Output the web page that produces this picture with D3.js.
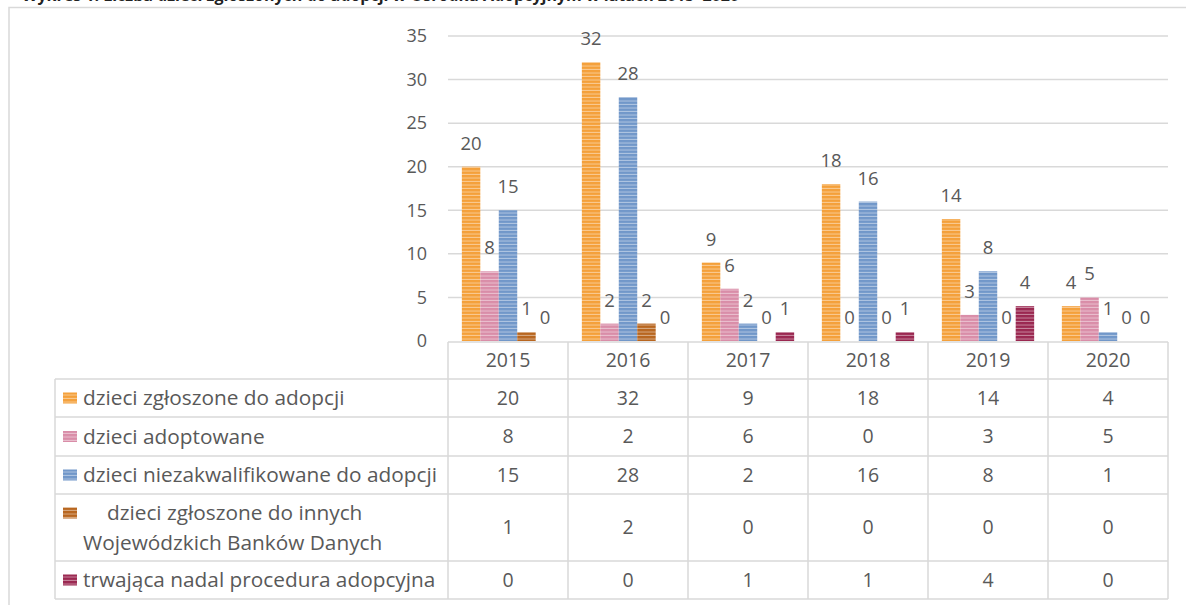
<!DOCTYPE html>
<html lang="pl">
<head>
  <meta charset="UTF-8">
  <title>Dzieci zgłoszone do adopcji 2015-2020</title>
  <script src="https://d3js.org/d3.v7.min.js"></script>
  <style>
    body {
      margin: 0;
      background: white;
      font-family: "Open Sans", sans-serif;
    }
    svg text {
      fill: #595959;
    }
  </style>
</head>
<body>
  <svg width="1186" height="605"></svg>
  <script>
    // chart data
    const years = ["2015", "2016", "2017", "2018", "2019", "2020"];
    const seriesNames = [
      "dzieci zgłoszone do adopcji",
      "dzieci adoptowane",
      "dzieci niezakwalifikowane do adopcji",
      "dzieci zgłoszone do innych Wojewódzkich Banków Danych",
      "trwająca nadal procedura adopcyjna"
    ];
    const zgloszone = [20, 32, 9, 18, 14, 4];
    const adoptowane = [8, 2, 6, 0, 3, 5];
    const niezakwalifikowane = [15, 28, 2, 16, 8, 1];
    const inneBanki = [1, 2, 0, 0, 0, 0];
    const trwajaca = [0, 0, 1, 1, 4, 0];
    const yTicks = [0, 5, 10, 15, 20, 25, 30, 35];

    const values = [zgloszone, adoptowane, niezakwalifikowane, inneBanki, trwajaca];
    const colors = ["#f4a03a", "#d98da8", "#7197c9", "#b8661f", "#9a2750"];

    const svg = d3.select("svg");

    // stripe patterns for bars
    const defs = svg.append("defs");
    colors.forEach((c, i) => {
      const p = defs.append("pattern")
        .attr("id", "pat" + i)
        .attr("patternUnits", "userSpaceOnUse")
        .attr("width", 6).attr("height", 3.5);
      p.append("rect").attr("width", 6).attr("height", 3.5).attr("fill", c);
      p.append("rect").attr("y", 2.5).attr("width", 6).attr("height", 1)
        .attr("fill", "white").attr("opacity", 0.45);
    });

    // title, cut off by the top edge of the picture
    svg.append("text")
      .attr("x", 22).attr("y", 0.5)
      .style("font-size", "16px").style("font-weight", "bold")
      .style("fill", "#222")
      .text("Wykres 1. Liczba dzieci zgłoszonych do adopcji w Ośrodku Adopcyjnym w latach 2015–2020");

    // outer frame (continues past the right and bottom edge)
    svg.append("path")
      .attr("d", "M9,1300 V7.5 H1300")
      .attr("fill", "none").attr("stroke", "#d9d9d9").attr("stroke-width", 1.5);

    const x0 = d3.scaleBand().domain(years).range([448, 1168]);
    const bw = x0.bandwidth() / 6.5;
    const x1 = d3.scaleBand().domain(d3.range(5))
      .range([bw * 0.75, x0.bandwidth() - bw * 0.75]);
    const y = d3.scaleLinear().domain([0, 35]).range([341, 36]);

    // gridlines
    svg.append("g").selectAll("line")
      .data(yTicks.filter(d => d > 0))
      .join("line")
      .attr("x1", 448).attr("x2", 1168)
      .attr("y1", d => y(d)).attr("y2", d => y(d))
      .attr("stroke", "#d9d9d9").attr("stroke-width", 1.5);

    // y axis labels
    const yAxis = svg.append("g")
      .attr("transform", "translate(427,0)")
      .call(d3.axisLeft(y).tickValues(yTicks).tickSize(0).tickPadding(0));
    yAxis.select(".domain").remove();
    yAxis.selectAll("text")
      .style("font-family", "Open Sans, sans-serif")
      .style("font-size", "18px")
      .attr("fill", "#595959");

    // bars and labels
    const groups = svg.append("g").selectAll("g")
      .data(years)
      .join("g")
      .attr("transform", d => `translate(${x0(d)},0)`);

    values.forEach((arr, si) => {
      groups.append("rect")
        .attr("x", x1(si))
        .attr("width", x1.bandwidth())
        .attr("y", (d, i) => y(arr[i]))
        .attr("height", (d, i) => y(0) - y(arr[i]))
        .attr("fill", `url(#pat${si})`);
      groups.append("text")
        .attr("x", x1(si) + x1.bandwidth() / 2)
        .attr("y", (d, i) => y(arr[i]) - 17)
        .attr("text-anchor", "middle")
        .style("font-size", "18.5px")
        .text((d, i) => arr[i]);
    });

    // data table
    const rowEdges = [379, 417, 456, 494, 561, 599];
    const tbl = svg.append("g")
      .attr("stroke", "#d9d9d9").attr("stroke-width", 1.5);
    tbl.append("line").attr("x1", 448).attr("x2", 1168).attr("y1", 342).attr("y2", 342);
    rowEdges.forEach(yy => {
      tbl.append("line").attr("x1", 55).attr("x2", 1168).attr("y1", yy).attr("y2", yy);
    });
    tbl.append("line").attr("x1", 55).attr("x2", 55).attr("y1", 379).attr("y2", 599);
    years.forEach(yr => {
      tbl.append("line").attr("x1", x0(yr)).attr("x2", x0(yr)).attr("y1", 342).attr("y2", 599);
    });
    tbl.append("line").attr("x1", 1168).attr("x2", 1168).attr("y1", 342).attr("y2", 599);

    const cellFont = "19.5px";
    const legendFont = "20.8px";

    // year headers
    svg.append("g").selectAll("text")
      .data(years)
      .join("text")
      .attr("x", d => x0(d) + x0.bandwidth() / 2)
      .attr("y", 360.5)
      .attr("dy", "0.35em")
      .attr("text-anchor", "middle")
      .style("font-size", cellFont)
      .text(d => d);

    // table rows
    values.forEach((arr, si) => {
      const cy = (rowEdges[si] + rowEdges[si + 1]) / 2;
      svg.append("g").selectAll("text")
        .data(years)
        .join("text")
        .attr("x", d => x0(d) + x0.bandwidth() / 2)
        .attr("y", cy)
        .attr("dy", "0.35em")
        .attr("text-anchor", "middle")
        .style("font-size", cellFont)
        .text((d, i) => arr[i]);

      svg.append("rect")
        .attr("x", 63).attr("y", cy - (si === 3 ? 20 : 5.5))
        .attr("width", 14).attr("height", 11)
        .attr("fill", `url(#pat${si})`);

      if (si === 3) {
        svg.append("text").attr("x", 107).attr("y", cy - 15).attr("dy", "0.35em")
          .style("font-size", legendFont).text("dzieci zgłoszone do innych");
        svg.append("text").attr("x", 83).attr("y", cy + 15).attr("dy", "0.35em")
          .style("font-size", legendFont).text("Wojewódzkich Banków Danych");
      } else {
        svg.append("text").attr("x", 83).attr("y", cy).attr("dy", "0.35em")
          .style("font-size", legendFont).text(seriesNames[si]);
      }
    });
  </script>
</body>
</html>
